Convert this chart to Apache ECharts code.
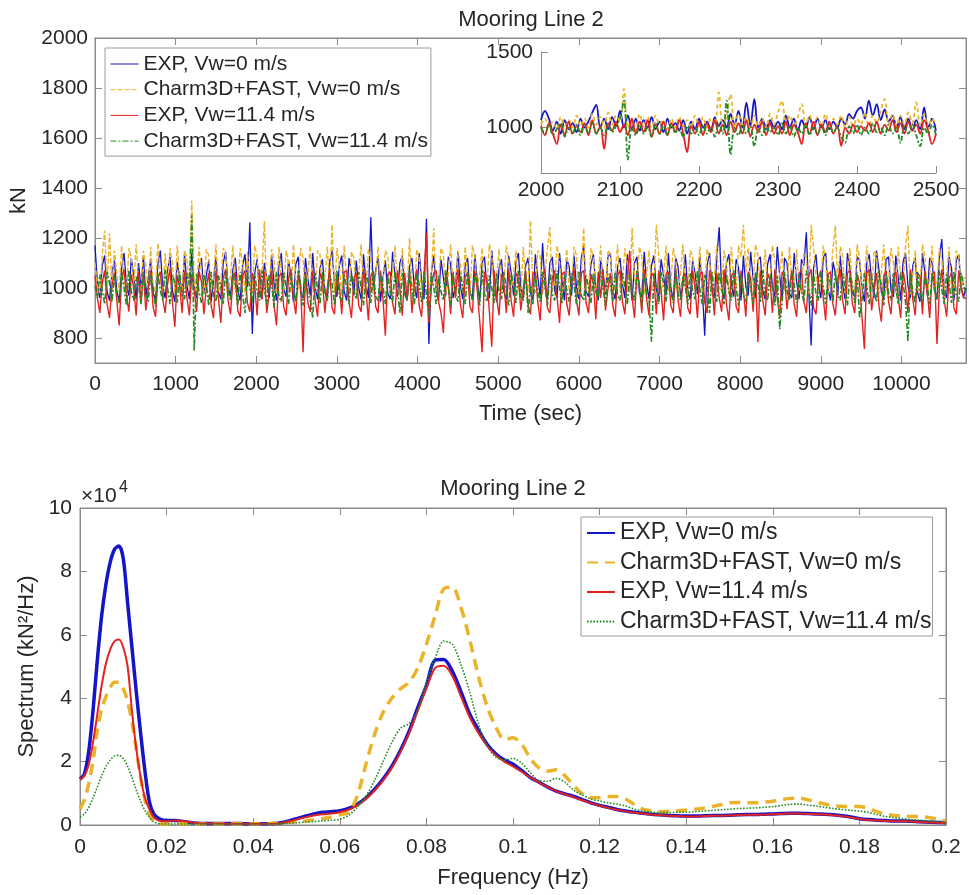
<!DOCTYPE html>
<html><head><meta charset="utf-8">
<script src="https://cdn.jsdelivr.net/npm/echarts@6/dist/echarts.min.js"></script>
<style>html,body{margin:0;padding:0;background:#fff}#c{width:969px;height:895px}</style>
</head><body><div id="c"></div>
<script>
// ---------- names ----------
const seriesNames = ['EXP, Vw=0 m/s', 'Charm3D+FAST, Vw=0 m/s', 'EXP, Vw=11.4 m/s', 'Charm3D+FAST, Vw=11.4 m/s'];
const chartTitle = 'Mooring Line 2';

// ---------- top: mooring tension time series (kN), one sample per 30 s ----------
const tensionTimeStep = 30;
const tensionExp0 = [
1170,1020,960,1090,1130,985,950,1060,1110,990,
945,1080,1140,1010,970,1120,1050,955,1100,1000,
1130,965,1040,1115,980,950,1095,1150,1005,960,
1070,1125,990,945,1105,1040,970,1135,1010,955,
1140,1000,960,1085,1120,975,1050,1110,945,1030,
1125,985,955,1100,1145,1010,965,1075,1120,990,
950,1090,1135,1005,1263,816,1060,1115,980,955,
1100,1040,960,1130,1020,950,1085,1140,995,965,
1110,1050,945,1095,1125,980,960,1120,1035,970,
1140,1000,955,1080,1115,990,950,1105,1150,1010,
965,1090,1130,985,950,1120,1060,970,1110,1000,
955,1135,1020,960,1283,990,1070,1125,945,1040,
1110,980,955,1145,1050,965,1100,1130,990,950,
1085,1120,1000,960,1140,1030,955,1277,776,1060,
1130,985,950,1115,1040,970,1125,1095,960,1005,
1145,1010,955,1090,1120,980,965,1135,1030,950,
1100,1125,990,960,1150,1020,945,1080,1115,985,
955,1130,1060,970,1105,1140,1000,960,1090,1120,
980,950,1135,1045,965,1180,1010,955,1100,1125,
990,960,1140,1030,950,1115,1085,970,1130,1005,
955,1120,1170,985,965,1095,1135,1000,950,1110,
1060,975,1125,1140,990,955,1085,1120,1015,960,
1135,1040,950,1100,1125,980,965,1145,1020,955,
1090,1130,995,960,1115,1050,970,1140,1005,950,
1120,1085,965,1010,1135,990,955,1110,1060,975,
1125,1000,809,1090,1140,985,960,1120,1243,995,
955,1100,1135,1020,965,1115,1080,950,1130,1005,
970,1145,1040,960,1110,1125,990,955,1095,1135,
1000,965,1165,1050,950,1120,1100,980,960,1140,
1025,955,1115,1090,1223,985,770,1080,1135,1010,
960,1120,1140,995,950,1105,1060,970,1130,1015,
955,1140,1085,980,965,1125,1110,1000,945,1100,
1135,1030,960,1150,1075,985,955,1115,1125,990,
965,1130,1040,950,1105,1140,1010,960,1090,1120,
980,945,1140,1060,970,1120,1100,995,955,1125,
1196,985,960,1125,1080,950,1110,1135,1000,965,
1000];
const tensionCF0 = [
1100,1010,980,1130,1230,1000,1220,990,1150,1060,
985,1170,1040,975,1160,1120,990,1175,1030,980,
1150,1090,975,1165,1010,985,1180,1050,970,1140,
1000,1160,1100,980,1170,1030,975,1150,1120,990,
1350,1010,980,1165,1060,975,1155,1130,990,1040,
1175,985,1020,1160,1140,975,1050,1170,995,1010,
1160,1100,980,1145,1030,975,1170,1125,990,1060,
1268,985,1010,1155,1115,975,1165,1040,990,1150,
1100,980,1175,1030,995,1160,1120,975,1050,1170,
1000,985,1150,1135,975,1040,1165,1010,1253,980,
1160,1090,975,1170,1035,990,1145,1120,980,1060,
1175,1000,985,1155,1110,975,1045,1165,990,1020,
1150,1130,980,1070,1170,995,975,1160,1040,985,
1200,1010,980,1155,1120,975,1060,1165,990,1030,
1240,985,1015,1160,1135,975,1050,1175,1000,990,
1150,1100,980,1165,1040,975,1170,1120,995,1055,
1160,985,1010,1175,1130,975,1045,1155,990,1020,
1170,1110,980,1060,1150,995,975,1165,1035,985,
1269,1000,980,1150,1125,975,1055,1160,1243,990,
1020,1170,1100,980,1040,1155,985,1010,1165,1130,
975,1050,1240,995,980,1160,1120,975,1045,1170,
1000,985,1150,1135,975,1060,1175,990,1020,1160,
1100,980,1240,1040,995,1165,1125,975,1055,1150,
990,1010,1253,1130,975,1045,1170,985,1020,1160,
1115,980,1060,1175,995,975,1150,1130,990,1040,
1165,985,1010,1155,1120,975,1050,1170,1000,990,
1150,1100,980,1165,1035,975,1170,1125,1253,1060,
1160,985,1015,1175,1130,975,1045,1155,990,1020,
1170,1110,980,1060,1150,995,975,1165,1035,985,
1155,1000,980,1140,1120,975,1253,1160,1050,990,
1020,1170,1100,980,1040,1155,1249,1010,1165,1130,
975,1050,1160,995,980,1175,1120,975,1045,1170,
1000,985,1150,1135,975,1060,1175,990,1020,1160,
1100,980,1165,1040,995,1170,1250,975,1055,1150,
990,1010,1175,1130,975,1045,1170,985,1020,1160,
1115,980,1060,1165,995,975,1150,1130,990,1040,
1040];
const tensionExp114 = [
1050,960,900,1020,1070,935,880,1010,1060,950,
850,1040,1075,970,905,1055,1000,890,1065,940,
1060,910,1000,1070,925,885,1040,1065,955,900,
1020,1075,945,845,1050,1005,900,1070,960,890,
1055,990,905,1065,1025,895,1000,1060,930,880,
1070,960,860,1040,1075,950,895,1030,1065,910,
885,1050,1070,940,905,1060,1015,890,1075,955,
1065,900,980,1070,935,850,1045,1060,925,890,
1040,1075,960,895,1055,1010,743,1065,940,905,
1070,950,885,1060,1030,900,1000,1075,920,895,
1055,1010,895,1065,1070,945,880,1040,1060,930,
905,1075,990,870,1050,1065,925,900,1070,960,
809,1055,1065,940,895,1070,1000,890,1060,955,
1065,900,1020,1075,930,885,1050,1220,860,1000,
1060,1070,945,900,820,1055,1010,895,1065,960,
1075,935,880,1045,1060,925,900,1070,990,870,
743,1065,1035,905,765,1070,960,890,1055,1020,
900,1075,950,885,1060,1040,910,1000,1070,930,
895,1060,1065,945,870,1050,1075,920,900,1040,
1070,960,860,1055,1065,935,890,1030,1075,950,
890,1060,1070,940,900,1055,1020,875,1065,960,
1075,910,995,1060,930,885,1050,1070,945,895,
1040,1150,960,880,1065,1010,900,1075,955,890,
1060,1045,895,1070,985,870,1055,1065,930,900,
1075,950,885,1040,1060,920,895,1070,1000,880,
1055,1065,945,900,1070,1015,890,1060,960,905,
1075,935,870,1050,1060,925,900,1070,990,885,
1065,1040,905,1055,784,1070,950,890,1060,1030,
900,1075,960,880,1065,1045,915,1000,1070,935,
885,1060,1070,945,900,1050,1075,920,895,1040,
1070,960,870,1055,1065,935,890,1030,1075,950,
895,1060,1070,940,900,1055,1020,885,756,1060,
1075,910,995,1060,930,865,1050,1070,945,895,
1040,1065,960,880,1065,1010,900,1075,955,890,
1060,1045,895,1070,985,880,1055,1065,776,1000,
1075,950,885,1040,1060,920,895,1070,1000,960,
960];
const tensionCF114 = [
1010,960,1055,990,935,1065,1020,945,1050,975,
940,1060,1000,930,1070,985,950,1045,1015,935,
1065,970,945,1055,1005,925,1060,990,950,1075,
1000,935,1050,1025,940,1065,965,955,1060,1010,
1290,750,1060,985,940,1055,1020,930,1065,970,
945,1050,1005,935,1070,990,950,1060,1015,930,
1065,975,900,1055,1000,940,1060,985,950,1070,
995,935,1055,1020,920,1065,970,945,1060,1005,
935,1050,990,945,1070,1010,930,1055,980,950,
880,1060,1000,935,1065,985,950,1055,1015,930,
1070,970,945,1050,1005,935,1060,990,955,1065,
1000,930,1055,1020,940,1070,965,950,1060,1010,
935,1050,985,945,1065,1000,900,1060,975,950,
1070,995,935,1055,1015,940,1065,970,890,1060,
1005,935,1050,985,950,1070,1010,930,1055,975,
945,1060,1000,935,1065,990,950,1055,1020,930,
1070,975,945,1050,1000,940,1060,985,955,1065,
995,930,1055,1020,940,1070,965,950,1060,900,
1010,935,1050,985,945,1065,1000,930,1060,975,
950,1070,1005,935,1055,990,945,1060,1015,935,
1065,970,950,1050,1000,940,1060,985,955,1070,
1000,930,1055,1015,945,1065,970,950,1060,1005,
935,1050,990,945,1070,1010,930,1055,980,950,
785,1060,1000,935,1065,1020,945,1055,985,940,
1065,975,950,1050,1005,935,1060,990,955,1070,
995,935,1055,1020,900,1065,970,945,1060,1010,
935,1050,985,950,1070,1000,930,1055,975,945,
1060,1005,935,1065,1015,940,1070,970,950,1055,
1000,930,1050,835,945,1065,990,950,1060,1010,
940,1055,985,945,1070,1000,930,1060,975,950,
1065,1005,935,1050,1020,945,1070,970,950,1060,
995,930,1055,1015,940,1065,880,950,1060,1005,
935,1050,990,945,1070,1010,930,1055,980,950,
1060,1000,935,1065,1020,945,785,1055,985,940,
1065,975,950,1050,1005,935,1060,990,955,1070,
995,935,1055,1020,940,1065,970,945,1060,1010,
980];
const tensionXMax = 10800;
const tensionYTicks = [800, 1000, 1200, 1400, 1600, 1800, 2000];

// ---------- inset: 2000-2500 s, one sample per 5 s ----------
const insetStart = 2000, insetStep = 5;
const insetExp0 = [
1050,1110,1060,980,1040,960,1050,990,1030,970,
1060,1000,1040,1100,1150,1000,1060,990,1070,1010,
1110,1000,1080,990,1060,980,1050,1000,1070,990,
1040,970,1060,1000,1030,980,1050,960,1040,990,
1060,1000,1040,980,1070,1010,1050,1000,1090,1020,
1110,1000,1165,1010,1189,1000,1060,990,1050,1000,
1040,990,1080,1000,1060,980,1050,1000,1070,990,
1060,1000,1050,990,1040,1000,1060,1020,1090,1060,
1110,1133,1060,1178,1080,1156,1050,1120,1040,1080,
1000,1070,990,1060,980,1050,990,1133,1000,1060,
980];
const insetCF0 = [
1020,1060,1000,1040,990,1070,1010,1050,1000,1080,
1010,1060,1000,1090,1020,1070,1000,1100,1020,1080,
1040,1256,1000,1060,980,1090,1010,1070,1000,1080,
1020,1050,990,1060,1000,1070,1010,1050,1000,1080,
1010,1070,1000,1060,1020,1233,1010,1080,1220,1000,
1090,1020,1070,1000,1080,1010,1060,1000,1090,1020,
1100,1178,1020,1080,1000,1070,1156,1010,1080,1000,
1070,1010,1090,1000,1060,1020,1080,1000,1070,1010,
1060,1020,1100,1010,1080,1030,1110,1189,1020,1090,
1010,1080,1020,1100,1030,1167,1010,1090,1000,1060,
1020];
const insetExp114 = [
1010,950,1030,960,891,1020,950,1040,960,1010,
970,1030,950,1050,960,1010,859,1030,980,1040,
970,1020,950,1060,960,1040,970,1050,940,1020,
960,1040,950,1030,970,1050,960,837,1010,960,
1040,950,1030,970,1050,960,1020,950,1040,970,
1030,960,1050,940,1020,970,1040,950,1030,960,
1010,960,1040,950,1020,970,891,1030,960,1040,
950,1020,970,1040,960,1010,878,1000,960,1020,
970,1010,980,1030,970,1040,960,1020,980,1050,
970,1030,960,1040,980,1020,960,1050,980,891,
960];
const insetCF114 = [
1000,960,1020,950,990,1030,940,1000,960,1020,
950,1010,970,1030,960,1000,950,1020,970,1010,
1060,1178,789,1000,950,1020,960,1000,940,1030,
960,1010,950,1020,970,990,940,1010,960,1000,
950,1020,960,1000,940,1030,960,1178,822,1000,
950,1020,960,1010,878,990,950,1020,970,1000,
950,1030,960,1010,940,1000,960,1020,950,1000,
960,1010,950,1020,970,1000,940,900,1010,960,
1020,950,1000,960,1030,970,1000,950,1020,960,
1000,900,1010,960,1020,950,878,1000,960,1020,
950];
const insetXRange = [2000, 2500];
const insetYTicks = [1000, 1500];

// ---------- bottom: spectrum (units of 1e4 kN^2/Hz) ----------
const freq = [
0,0.001,0.002,0.003,0.004,0.005,0.006,0.007,0.008,0.009,0.010,0.011,0.012,0.013,0.014,0.015,0.016,0.017,0.018,0.019,0.020,
0.022,0.024,0.026,0.028,0.030,0.032,0.034,0.036,0.038,
0.040,0.042,0.044,0.046,0.048,0.050,0.052,0.054,0.056,0.058,
0.060,0.062,0.064,0.066,0.068,0.070,0.072,0.074,0.076,0.078,
0.080,0.082,0.084,0.086,0.088,0.090,0.092,0.094,0.096,0.098,
0.100,0.102,0.104,0.106,0.108,0.110,0.112,0.114,0.116,0.118,
0.120,0.122,0.124,0.126,0.128,0.130,0.132,0.134,0.136,0.138,
0.140,0.142,0.144,0.146,0.148,0.150,0.152,0.154,0.156,0.158,
0.160,0.162,0.164,0.166,0.168,0.170,0.172,0.174,0.176,0.178,
0.180,0.182,0.184,0.186,0.188,0.190,0.192,0.194,0.196,0.198,
0.200];
const specExp0 = [
1.45,1.6,2.3,3.6,5.2,6.6,7.6,8.3,8.7,8.8,8.4,7.0,5.6,4.2,2.9,1.7,0.75,0.35,0.22,0.16,0.14,
0.14,0.1,0.07,0.05,0.05,0.05,0.05,0.05,0.04,
0.04,0.04,0.04,0.06,0.12,0.2,0.28,0.35,0.4,0.42,
0.45,0.52,0.65,0.85,1.12,1.45,1.85,2.35,2.95,3.7,
4.4,5.2,5.22,4.85,4.2,3.5,3.0,2.55,2.25,2.05,
1.92,1.72,1.5,1.35,1.2,1.07,0.98,0.9,0.8,0.7,
0.62,0.56,0.49,0.44,0.4,0.37,0.34,0.32,0.3,0.29,
0.28,0.28,0.29,0.3,0.3,0.31,0.32,0.33,0.33,0.34,
0.35,0.36,0.37,0.37,0.36,0.35,0.34,0.32,0.29,0.25,
0.2,0.17,0.15,0.14,0.13,0.13,0.12,0.1,0.09,0.08,
0.07];
const specCF0 = [
0.5,0.8,1.3,2.0,3.0,3.65,4.05,4.35,4.5,4.5,4.3,3.9,3.25,2.4,1.5,0.8,0.35,0.12,0.05,0.03,0.03,
0.04,0.04,0.04,0.04,0.04,0.04,0.04,0.04,0.04,
0.04,0.04,0.05,0.06,0.08,0.1,0.13,0.17,0.2,0.25,
0.32,0.4,0.9,1.9,2.85,3.55,4.0,4.3,4.5,4.95,
5.7,6.6,7.45,7.5,6.85,5.85,4.7,3.75,3.1,2.7,
2.75,2.55,2.1,1.8,1.7,1.74,1.55,1.25,0.98,0.87,
0.86,0.9,0.9,0.82,0.65,0.5,0.45,0.42,0.43,0.45,
0.47,0.5,0.53,0.58,0.64,0.7,0.71,0.7,0.7,0.72,
0.75,0.8,0.84,0.85,0.8,0.72,0.66,0.61,0.59,0.58,
0.58,0.53,0.42,0.34,0.3,0.28,0.27,0.26,0.24,0.19,
0.13];
const specExp114 = [
1.45,1.55,1.9,2.6,3.5,4.4,5.1,5.55,5.8,5.85,5.6,5.0,3.6,2.4,1.5,0.85,0.5,0.25,0.15,0.12,0.12,
0.14,0.12,0.08,0.05,0.05,0.05,0.04,0.04,0.04,
0.04,0.04,0.04,0.05,0.1,0.17,0.24,0.3,0.34,0.36,
0.4,0.48,0.62,0.82,1.08,1.4,1.8,2.3,2.9,3.6,
4.3,4.95,5.02,4.7,4.05,3.4,2.9,2.5,2.2,2.0,
1.85,1.68,1.5,1.34,1.2,1.07,0.97,0.88,0.78,0.69,
0.61,0.54,0.48,0.43,0.39,0.36,0.33,0.31,0.29,0.28,
0.27,0.27,0.28,0.29,0.29,0.3,0.31,0.32,0.32,0.33,
0.34,0.35,0.36,0.36,0.35,0.34,0.33,0.31,0.28,0.24,
0.19,0.16,0.14,0.13,0.12,0.12,0.11,0.09,0.08,0.07,
0.06];
const specCF114 = [
0.25,0.35,0.55,0.85,1.2,1.55,1.85,2.05,2.18,2.2,2.1,1.85,1.5,1.1,0.75,0.45,0.25,0.1,0.05,0.03,0.03,
0.03,0.03,0.03,0.03,0.03,0.03,0.03,0.03,0.03,
0.03,0.03,0.03,0.04,0.05,0.07,0.09,0.11,0.13,0.15,
0.18,0.3,0.55,0.9,1.4,2.0,2.6,3.05,3.2,3.6,
4.5,5.25,5.8,5.7,5.05,4.2,3.2,2.5,2.15,2.05,
2.1,1.95,1.65,1.4,1.38,1.47,1.35,1.1,0.95,0.82,
0.76,0.7,0.66,0.6,0.5,0.44,0.41,0.39,0.39,0.4,
0.4,0.42,0.44,0.46,0.48,0.5,0.52,0.53,0.54,0.56,
0.58,0.62,0.65,0.66,0.63,0.6,0.56,0.52,0.49,0.46,
0.44,0.4,0.33,0.27,0.23,0.2,0.17,0.15,0.13,0.11,
0.1];
const specScaleLabel = '×10';
const specScaleExp = '4';

// ---------- styling ----------
const FONT = '"Liberation Sans", Arial, Helvetica, sans-serif';
const TXT = '#262626';
const AX = '#8a8a8a';
const COLORS = ['#1515c8', '#eab42a', '#e32222', '#228b22'];
const plain = v => String(v);

const chart = echarts.init(document.getElementById('c'), null, {renderer: 'canvas'});

const mainTime = tensionExp0.map((_, i) => i * tensionTimeStep);
const insetTime = insetExp0.map((_, i) => insetStart + i * insetStep);
const zip = (xs, ys) => ys.map((v, i) => [xs[i], v]);

function axisBase(extra) {
  return Object.assign({
    type: 'value',
    axisLine: {show: true, onZero: false, lineStyle: {color: AX, width: 1}},
    axisTick: {show: true, inside: true, length: 7, lineStyle: {color: AX}},
    axisLabel: {color: TXT, fontSize: 21, fontFamily: FONT, formatter: plain},
    splitLine: {show: false},
    nameTextStyle: {color: TXT, fontSize: 22, fontFamily: FONT}
  }, extra);
}
const lab = (extra) => Object.assign({color: TXT, fontSize: 21, fontFamily: FONT, formatter: plain}, extra);
const tick = (extra) => Object.assign({show: true, inside: true, length: 7, lineStyle: {color: AX}}, extra);

const xAxis = [
  axisBase({gridIndex: 0, min: 0, max: tensionXMax, interval: 1000,
    axisLabel: lab({margin: 11, showMaxLabel: false}),
    name: 'Time (sec)', nameLocation: 'middle', nameGap: 40}),
  axisBase({gridIndex: 0, position: 'top', min: 0, max: tensionXMax, interval: 1000,
    axisLabel: {show: false}}),
  axisBase({gridIndex: 1, min: insetXRange[0], max: insetXRange[1], interval: 100,
    axisLabel: lab({margin: 7})}),
  axisBase({gridIndex: 2, min: 0, max: 0.2, interval: 0.02,
    axisLabel: lab({margin: 12}),
    name: 'Frequency (Hz)', nameLocation: 'middle', nameGap: 42}),
  axisBase({gridIndex: 2, position: 'top', min: 0, max: 0.2, interval: 0.02,
    axisLabel: {show: false}})
];

const yAxis = [
  axisBase({gridIndex: 0, min: 700, max: 2000,
    axisLabel: lab({margin: 7, customValues: tensionYTicks}),
    axisTick: tick({customValues: tensionYTicks}),
    name: 'kN', nameLocation: 'middle', nameGap: 57}),
  axisBase({gridIndex: 0, position: 'right', min: 700, max: 2000,
    axisLabel: {show: false, customValues: tensionYTicks},
    axisTick: tick({customValues: tensionYTicks})}),
  axisBase({gridIndex: 1, min: 700, max: 1500,
    axisLabel: lab({margin: 8, customValues: insetYTicks}),
    axisTick: tick({customValues: insetYTicks})}),
  axisBase({gridIndex: 2, min: 0, max: 10, interval: 2,
    axisLabel: lab({margin: 8}),
    name: 'Spectrum (kN²/Hz)', nameLocation: 'middle', nameGap: 27}),
  axisBase({gridIndex: 2, position: 'right', min: 0, max: 10, interval: 2,
    axisLabel: {show: false}})
];

const mainStyles = [
  {color: COLORS[0], width: 1.3, type: 'solid'},
  {color: COLORS[1], width: 1.4, type: [5, 2]},
  {color: COLORS[2], width: 1.4, type: 'solid'},
  {color: COLORS[3], width: 1.6, type: [6, 2, 2, 2]}
];
const insetStyles = [
  {color: COLORS[0], width: 1.8, type: 'solid'},
  {color: COLORS[1], width: 1.8, type: [4, 3]},
  {color: COLORS[2], width: 1.8, type: 'solid'},
  {color: COLORS[3], width: 1.8, type: [5, 2, 2, 2]}
];
const specStyles = [
  {color: COLORS[0], width: 3.5, type: 'solid'},
  {color: COLORS[1], width: 3.5, type: [11, 7]},
  {color: COLORS[2], width: 2, type: 'solid'},
  {color: COLORS[3], width: 1.6, type: [1.6, 1.6]}
];

const mainData = [tensionExp0, tensionCF0, tensionExp114, tensionCF114];
const insetData = [insetExp0, insetCF0, insetExp114, insetCF114];
const specData = [specExp0, specCF0, specExp114, specCF114];
const specNames = seriesNames.map(n => n + ' ');

const series = [];
mainData.forEach((d, i) => series.push({
  name: seriesNames[i], type: 'line', xAxisIndex: 0, yAxisIndex: 0,
  data: zip(mainTime, d), symbol: 'none', showSymbol: false,
  lineStyle: mainStyles[i], itemStyle: {color: COLORS[i]}, z: 2 + i, silent: true
}));
insetData.forEach((d, i) => series.push({
  name: seriesNames[i], type: 'line', xAxisIndex: 2, yAxisIndex: 2,
  data: zip(insetTime, d), symbol: 'none', showSymbol: false, smooth: 0.35,
  lineStyle: insetStyles[i], itemStyle: {color: COLORS[i]}, z: 2 + i, silent: true
}));
specData.forEach((d, i) => series.push({
  name: specNames[i], type: 'line', xAxisIndex: 3, yAxisIndex: 3,
  data: zip(freq, d), symbol: 'none', showSymbol: false, smooth: 0.3,
  lineStyle: specStyles[i], itemStyle: {color: COLORS[i]}, z: 2 + i, silent: true
}));

const legendCommon = {
  orient: 'vertical', backgroundColor: '#fff', borderColor: '#9a9a9a', borderWidth: 1,
  borderRadius: 0, selectedMode: false, itemWidth: 28, itemHeight: 14,
  itemStyle: {opacity: 0}
};

chart.setOption({
  animation: false,
  backgroundColor: '#fff',
  textStyle: {fontFamily: FONT},
  grid: [
    {left: 95, top: 38, width: 871, height: 325, show: true, borderColor: AX, borderWidth: 1, backgroundColor: 'transparent', outerBoundsMode: 'none', containLabel: false},
    {left: 541, top: 52, width: 395, height: 121, outerBoundsMode: 'none', containLabel: false},
    {left: 80, top: 508, width: 866, height: 317, show: true, borderColor: AX, borderWidth: 1, backgroundColor: 'transparent', outerBoundsMode: 'none', containLabel: false}
  ],
  xAxis, yAxis, series,
  legend: [
    Object.assign({}, legendCommon, {
      data: seriesNames, left: 105, top: 48, padding: [5.5, 3, 4.5, 5], itemGap: 4.7,
      lineStyle: {width: 1},
      textStyle: {color: TXT, fontSize: 21, fontFamily: FONT}
    }),
    Object.assign({}, legendCommon, {
      data: specNames, left: 581, top: 517, padding: [4.5, 1, 3, 5], itemGap: 6.5,
      formatter: n => n.trim(),
      textStyle: {color: TXT, fontSize: 23, fontFamily: FONT}
    })
  ],
  graphic: [
    {type: 'text', x: 531, y: 20, style: {text: chartTitle, fontSize: 22, fontFamily: FONT, fill: TXT, align: 'center', verticalAlign: 'middle'}},
    {type: 'text', x: 513, y: 489, style: {text: chartTitle, fontSize: 22, fontFamily: FONT, fill: TXT, align: 'center', verticalAlign: 'middle'}},
    {type: 'text', x: 81, y: 496, style: {text: specScaleLabel, fontSize: 21, fontFamily: FONT, fill: TXT, align: 'left', verticalAlign: 'middle'}},
    {type: 'text', x: 119, y: 488, style: {text: specScaleExp, fontSize: 16, fontFamily: FONT, fill: TXT, align: 'left', verticalAlign: 'middle'}}
  ]
});
</script></body></html>
